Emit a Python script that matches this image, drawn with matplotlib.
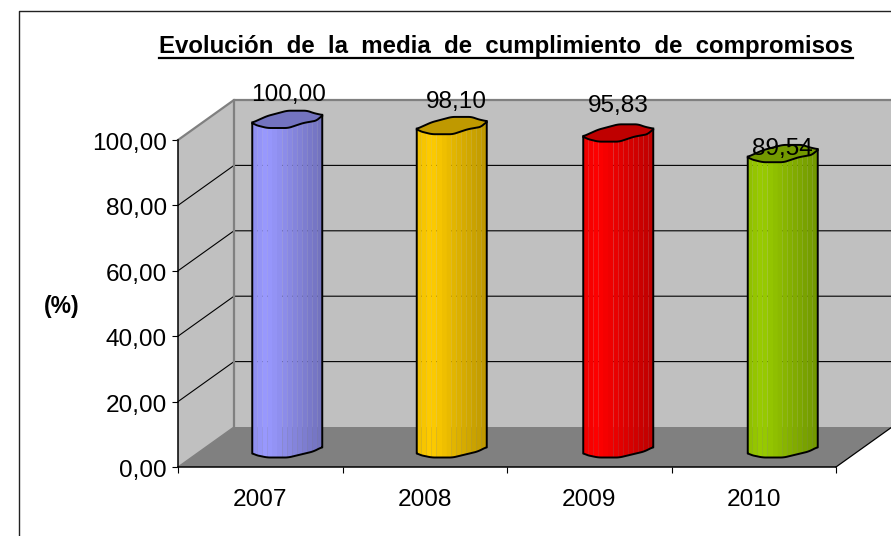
import numpy as np
import matplotlib
matplotlib.use('Agg')
import matplotlib.pyplot as plt
from matplotlib.lines import Line2D
from matplotlib.transforms import ScaledTranslation

plt.rcParams['font.family'] = ['Liberation Sans', 'DejaVu Sans']

# data
years = ['2007', '2008', '2009', '2010']
values = [100.00, 98.10, 95.83, 89.54]
value_labels = ['100,00', '98,10', '95,83', '89,54']
y_ticks = [0, 20, 40, 60, 80, 100]
y_tick_labels = ['0,00', '20,00', '40,00', '60,00', '80,00', '100,00']
bar_colors = ['#9999FF', '#FFCC00', '#FF0000', '#99CC00']
title = 'Evolución  de  la  media  de  cumplimiento  de  compromisos'

# label offsets from the bar top, in pixels (placed by hand in the original)
label_dx = [1, 5, 0, 0]
label_dy = [25, 24, 28, 5]
bar_nudge = [-1, -1, 1, 1]

# scale of the front plane, pixels per data unit
px_x = 164.5
px_y = 3.27
depth_x = 56 / px_x
depth_y = 40 / px_y

fig = plt.figure(figsize=(8.91, 5.36), dpi=100, facecolor='white')
ax = fig.add_axes([178 / 891, (536 - 467) / 536, 658 / 891, 327 / 536])
ax.set_xlim(0, 4)
ax.set_ylim(0, 100)
ax.patch.set_visible(False)


def back(x, v):
    return x + depth_x, v + depth_y


# walls and floor
bx0, by0 = back(0, 0)
bx1, by1 = back(4, 100)
ax.fill([bx0, bx1, bx1, bx0], [by0, by0, by1, by1], color='#C0C0C0', clip_on=False, zorder=1, lw=0)
ax.fill([0, bx0, bx0, 0], [0, by0, by1, 100], color='#C0C0C0', clip_on=False, zorder=1, lw=0)
ax.fill([0, 4, bx1, bx0], [0, 0, by0, by0], color='#808080', clip_on=False, zorder=1, lw=0)

for v in y_ticks[1:-1]:
    ax.plot([0, bx0, bx1], [v, v + depth_y, v + depth_y], color='black', lw=0.8, clip_on=False, zorder=2)
ax.plot([0, bx0, bx1], [100, by1, by1], color='#808080', lw=1.6, clip_on=False, zorder=2)
ax.plot([bx0, bx0], [by0, by1], color='#808080', lw=1.6, clip_on=False, zorder=2)
ax.plot([0, bx0], [0, by0], color='#808080', lw=1.0, clip_on=False, zorder=2)
ax.plot([4, bx1], [0, by0], color='black', lw=0.9, clip_on=False, zorder=2)

# outline of the cylinder ends, pixel offsets from the centre (y up)
ring_x = np.linspace(-35, 35, 71)
top_up = np.interp(ring_x, [-35, -20, 0, 20, 26, 35], [-2.7, 4, 9.3, 9.3, 7, 5])
top_lo = np.interp(ring_x, [-35, -32, -20, 1, 16, 30, 35], [-2.7, -5, -8, -8, -3, -0.5, 5])
bot_lo = np.interp(ring_x, [-35, -32, -20, 1, 26, 35], [-6, -8, -10.5, -10.5, -4.5, 0])


def smooth(y, n=3):
    # moving average, end points stay where they are
    pad = np.concatenate([np.full(n, y[0]), y, np.full(n, y[-1])])
    return np.convolve(pad, np.ones(2 * n + 1) / (2 * n + 1), mode='valid')


top_up = smooth(top_up)
top_lo = smooth(top_lo)
bot_lo = smooth(bot_lo)

# shading across the cylinder
shade_pos = [0, 0.2, 0.5, 0.8, 1]
shade_val = [0.93, 1.0, 0.9, 0.8, 0.74]
edges = np.linspace(-35, 35, 15)


def shaded(color, f):
    return tuple(c * f for c in matplotlib.colors.to_rgb(color))


for i, (val, col) in enumerate(zip(values, bar_colors)):
    cx = i + 0.5 + depth_x / 2 + bar_nudge[i] / px_x
    base = depth_y / 2
    top = val + depth_y / 2

    # body, drawn as vertical strips
    for e0, e1 in zip(edges[:-1], edges[1:]):
        xs = np.array([e0, e1])
        yb = base + np.interp(xs, ring_x, bot_lo) / px_y
        yt = top + np.interp(xs, ring_x, top_lo) / px_y
        f = np.interp((e0 + e1) / 2 / 70 + 0.5, shade_pos, shade_val)
        ax.fill(cx + np.array([e0, e1, e1, e0]) / px_x, [yb[0], yb[1], yt[1], yt[0]],
                color=shaded(col, f), lw=0, zorder=3, clip_on=False)

    # silhouette
    sx = cx + np.concatenate([[-35], ring_x, [35]]) / px_x
    sy = np.concatenate([[top + top_lo[0] / px_y], base + bot_lo / px_y, [top + top_lo[-1] / px_y]])
    ax.plot(sx, sy, color='black', lw=1.4, zorder=4, clip_on=False)

    # top face
    fx = cx + np.concatenate([ring_x, ring_x[::-1]]) / px_x
    fy = top + np.concatenate([top_up, top_lo[::-1]]) / px_y
    ax.fill(fx, fy, facecolor=shaded(col, 0.75), edgecolor='black', lw=1.4, zorder=5, clip_on=False)

    ax.text(cx + label_dx[i] / px_x, top + label_dy[i] / px_y, value_labels[i],
            ha='center', va='center', fontsize=17.6, color='black', zorder=6, clip_on=False)

# axes
for s in ['top', 'right']:
    ax.spines[s].set_visible(False)
for s in ['left', 'bottom']:
    ax.spines[s].set_linewidth(1.1)
    ax.spines[s].set_zorder(6)

ax.set_yticks(y_ticks)
ax.set_yticklabels(y_tick_labels, fontsize=17.6)
ax.set_xticks(range(5))
ax.set_xticklabels([])
ax.set_xticks(np.arange(4) + 0.5, labels=years, minor=True, fontsize=17.6)
ax.tick_params(axis='y', length=4.5, width=0.8, pad=3.5)
ax.tick_params(axis='x', which='major', length=4.5, width=0.8)
ax.tick_params(axis='x', which='minor', length=0, pad=15.5)

# y tick labels sit a little below their ticks
shift = ScaledTranslation(0, -1.5 / 100, fig.dpi_scale_trans)
for lab in ax.get_yticklabels():
    lab.set_transform(lab.get_transform() + shift)

ax.set_ylabel('(%)', fontsize=16.5, fontweight='bold', rotation=0, ha='center', va='center')
ax.yaxis.set_label_coords(-116.5 / 658, (467 - 307) / 327)

# title with underline
t = fig.text(506 / 891, 1 - 46 / 536, title, ha='center', va='center',
             fontsize=17.3, fontweight='bold', color='black')
fig.canvas.draw()
bb = t.get_window_extent()
fig.add_artist(Line2D([bb.x0 / 891, bb.x1 / 891], [1 - 58 / 536] * 2, color='black', lw=1.6))

# chart border
fig.add_artist(Line2D([18.5 / 891, 18.5 / 891, 1], [0, 1 - 10.5 / 536, 1 - 10.5 / 536], color='#222222', lw=1.0))

fig.savefig('out.png', dpi=100)
